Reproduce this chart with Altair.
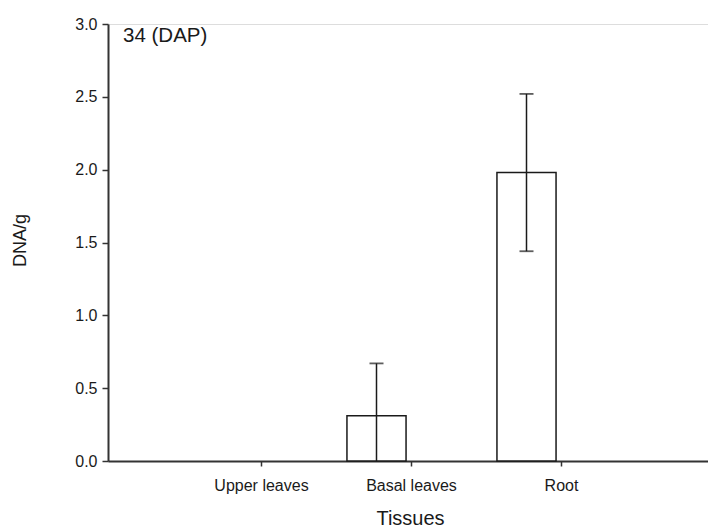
import json
import altair as alt
import pandas as pd

# ---- data ----
tissues = ["Upper leaves", "Basal leaves", "Root"]
positions = [1, 2, 3]
means = [0.0, 0.31, 1.98]
errors = [0.0, 0.36, 0.54]
y_ticks = [0.0, 0.5, 1.0, 1.5, 2.0, 2.5, 3.0]
panel_label = "34 (DAP)"

df = pd.DataFrame({"tissue": tissues, "pos": positions, "mean": means, "err": errors})

FONT = "Liberation Sans, Arial, sans-serif"
INK = "#1a1a1a"

base = alt.Chart(df).transform_calculate(
    center="datum.pos - 0.23",
    left="datum.pos - 0.23 - 0.197",
    right="datum.pos - 0.23 + 0.197",
    lo="datum.mean - datum.err",
    hi="datum.mean + datum.err",
)

label_expr = f"{json.dumps(tissues)}[datum.value - 1]"

x_scale = alt.Scale(domain=[-0.02, 3.98], nice=False, zero=False)
y_scale = alt.Scale(domain=[0, 3], nice=False)

x_axis = alt.Axis(
    values=positions, labelExpr=label_expr, title="Tissues", grid=False,
    tickSize=5, tickColor="#333", tickWidth=1.5,
    domainColor="#333", domainWidth=2,
    labelFont=FONT, labelFontSize=16, labelColor=INK, labelPadding=11,
    titleFont=FONT, titleFontSize=20, titleFontWeight="normal", titleColor=INK,
    titleX=302, titleY=57, titleBaseline="middle", titleAlign="center",
)
y_axis = alt.Axis(
    values=y_ticks, format=".1f", title="DNA/g", grid=False,
    tickSize=6, tickColor="#333", tickWidth=1.5,
    domainColor="#333", domainWidth=2,
    labelFont=FONT, labelFontSize=16, labelColor=INK, labelPadding=5,
    titleFont=FONT, titleFontSize=18, titleFontWeight="normal", titleColor=INK,
    titleX=-88, titleY=216, titleBaseline="middle", titleAlign="center", titleAngle=-90,
)

bars = base.transform_filter("datum.mean > 0").mark_rect(
    fill="white", stroke=INK, strokeWidth=1.5
).encode(
    x=alt.X("left:Q", scale=x_scale, axis=x_axis),
    x2="right:Q",
    y=alt.Y("mean:Q", scale=y_scale, axis=y_axis),
    y2=alt.Y2(datum=0),
)

rules = base.transform_filter("datum.err > 0").mark_rule(
    color=INK, strokeWidth=1.5, clip=True
).encode(
    x=alt.X("center:Q", scale=x_scale),
    y=alt.Y("lo:Q", scale=y_scale),
    y2="hi:Q",
)

caps_hi = base.transform_filter("datum.err > 0").mark_tick(
    color=INK, thickness=1.8, size=14, orient="horizontal", clip=True
).encode(
    x=alt.X("center:Q", scale=x_scale),
    y=alt.Y("hi:Q", scale=y_scale),
)
caps_lo = base.transform_filter("datum.err > 0 && datum.mean - datum.err > 0").mark_tick(
    color=INK, thickness=1.8, size=14, orient="horizontal", clip=True
).encode(
    x=alt.X("center:Q", scale=x_scale),
    y=alt.Y("lo:Q", scale=y_scale),
)

label = alt.Chart(pd.DataFrame({"t": [panel_label]})).mark_text(
    align="left", baseline="alphabetic", font=FONT, fontSize=20.5, color=INK
).encode(x=alt.value(15), y=alt.value(18), text="t:N")

chart = alt.layer(bars, rules, caps_hi, caps_lo, label).properties(
    width=600, height=437,
    padding={"left": 108, "top": 24, "right": 0, "bottom": 68},
    autosize="none",
).configure_view(stroke="transparent", strokeWidth=0).configure(background="white")

chart.save("out.html", embed_options={"renderer": "svg", "actions": False})
